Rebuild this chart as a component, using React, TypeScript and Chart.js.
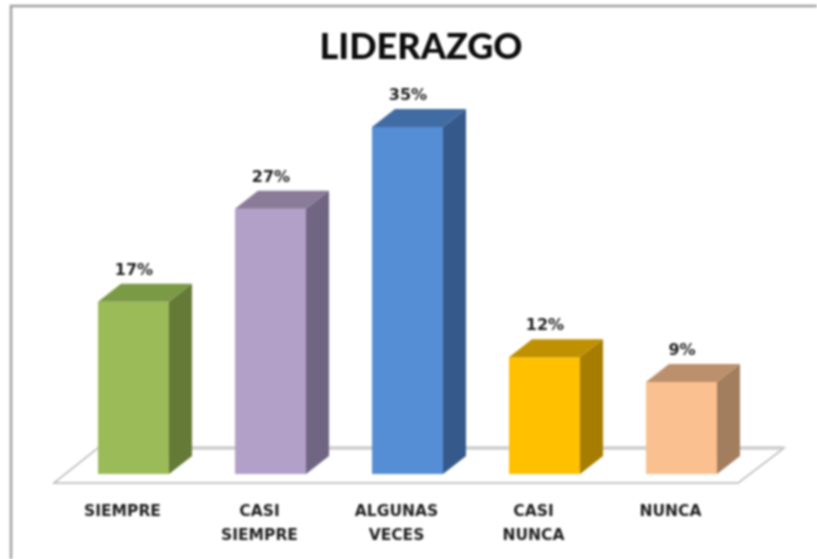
import React, { useEffect, useRef } from "react";
import { Chart, registerables } from "chart.js";

Chart.register(...registerables);

const TITLE = "LIDERAZGO";
const categories = [["SIEMPRE"], ["CASI", "SIEMPRE"], ["ALGUNAS", "VECES"], ["CASI", "NUNCA"], ["NUNCA"]];
const values = [17.4, 26.8, 35.05, 11.8, 9.3];
const valueLabels = ["17%", "27%", "35%", "12%", "9%"];
const frontColors = ["#9BBB59", "#B3A0C8", "#558ED5", "#FFC000", "#FAC090"];
const topColors = ["#7B9A45", "#8A7B99", "#416BA3", "#BF9000", "#BC906C"];
const sideColors = ["#647A36", "#706583", "#35598B", "#A67D00", "#A27D5E"];

const DEPTH_X = 23;
const DEPTH_Y = 18;
const FONT = "'Lato', sans-serif";
const LABEL_FONT = "'DejaVu Sans', sans-serif";

const bars3d = {
  id: "bars3d",
  beforeDraw(chart: any) {
    const { ctx } = chart;
    ctx.save();
    ctx.fillStyle = "#ffffff";
    ctx.fillRect(0, 0, chart.width, chart.height);
    ctx.strokeStyle = "#a0a0a0";
    ctx.lineWidth = 2.5;
    ctx.beginPath();
    ctx.moveTo(11, chart.height);
    ctx.lineTo(11, 6);
    ctx.lineTo(chart.width, 6);
    ctx.stroke();
    ctx.restore();
  },
  beforeDatasetsDraw(chart: any) {
    const { ctx, chartArea, scales } = chart;
    const base = scales.y.getPixelForValue(0);
    const frontY = base + 9;
    const backY = base - 26;
    const frontL = chartArea.left - 11;
    const frontR = chartArea.right - 12;
    const backL = frontL + 44;
    const backR = frontR + 46;
    ctx.save();
    ctx.fillStyle = "#ffffff";
    ctx.beginPath();
    ctx.moveTo(frontL, frontY);
    ctx.lineTo(frontR, frontY);
    ctx.lineTo(backR, backY);
    ctx.lineTo(backL, backY);
    ctx.closePath();
    ctx.fill();
    ctx.strokeStyle = "#b4b4b4";
    ctx.lineWidth = 1.5;
    ctx.stroke();
    ctx.strokeStyle = "#cdcdcd";
    ctx.lineWidth = 3.5;
    ctx.beginPath();
    ctx.moveTo(backL, backY);
    ctx.lineTo(backR, backY);
    ctx.stroke();
    ctx.restore();
  },
  afterDatasetsDraw(chart: any) {
    const { ctx } = chart;
    const meta = chart.getDatasetMeta(0);
    ctx.save();
    meta.data.forEach((bar: any, i: number) => {
      const p = bar.getProps(["x", "y", "base", "width"], true);
      const l = p.x - p.width / 2;
      const r = p.x + p.width / 2;
      ctx.fillStyle = sideColors[i];
      ctx.beginPath();
      ctx.moveTo(r, p.y);
      ctx.lineTo(r + DEPTH_X, p.y - DEPTH_Y);
      ctx.lineTo(r + DEPTH_X, p.base - DEPTH_Y);
      ctx.lineTo(r, p.base);
      ctx.closePath();
      ctx.fill();
      ctx.fillStyle = topColors[i];
      ctx.beginPath();
      ctx.moveTo(l, p.y);
      ctx.lineTo(l + DEPTH_X, p.y - DEPTH_Y);
      ctx.lineTo(r + DEPTH_X, p.y - DEPTH_Y);
      ctx.lineTo(r, p.y);
      ctx.closePath();
      ctx.fill();
      ctx.fillStyle = "#1f1f1f";
      ctx.font = `bold 16px ${LABEL_FONT}`;
      ctx.textAlign = "center";
      ctx.textBaseline = "middle";
      ctx.fillText(valueLabels[i], p.x + 0.5, p.y - 31);
    });
    ctx.restore();
  },
  afterLayout(chart: any) {
    if (chart.titleBlock) {
      chart.titleBlock.left += 13.5;
      chart.titleBlock.right += 13.5;
    }
  },
};

export default function App() {
  const ref = useRef<HTMLCanvasElement>(null);
  useEffect(() => {
    const chart = new Chart(ref.current as HTMLCanvasElement, {
      type: "bar",
      data: {
        labels: categories as any,
        datasets: [
          {
            data: values,
            backgroundColor: frontColors,
            borderWidth: 0,
            categoryPercentage: 1,
            barPercentage: 0.518,
          },
        ],
      },
      options: {
        responsive: false,
        animation: false,
        layout: { padding: { left: 65, right: 67, top: 27, bottom: 0 } },
        plugins: {
          legend: { display: false },
          tooltip: { enabled: false },
          title: {
            display: true,
            text: TITLE,
            color: "#0d0d0d",
            font: { family: FONT, size: 36, weight: 900, lineHeight: 1.13 },
            padding: { top: 0, bottom: 10.3 },
          },
        },
        scales: {
          x: {
            afterFit: (s: any) => {
              s.height = 85;
            },
            grid: { display: false },
            border: { display: false },
            ticks: {
              color: "#1f1f1f",
              font: { family: LABEL_FONT, size: 15.5, weight: "bold", lineHeight: 1.61 },
              padding: 17,
              maxRotation: 0,
              autoSkip: false,
              labelOffset: -11,
            },
          },
          y: { display: false, min: 0, max: 40 },
        },
      },
      plugins: [bars3d],
    });
    return () => chart.destroy();
  }, []);
  return (
    <div style={{ position: "fixed", left: 0, top: 0, width: 817, height: 559, overflow: "hidden", background: "#fff" }}>
      <canvas ref={ref} width={817} height={559} style={{ display: "block", filter: "blur(0.9px)" }} />
    </div>
  );
}
